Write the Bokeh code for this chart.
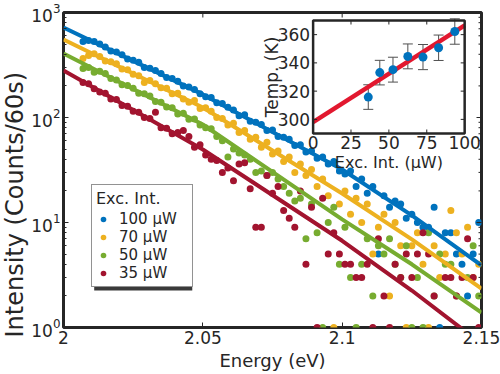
import math
import numpy as np
from bokeh.plotting import figure
from bokeh.models import Range1d, LinearScale, FixedTicker, Legend, LegendItem, Title
from bokeh.embed import file_html
from bokeh.resources import INLINE
from bokeh.core.properties import value

# ---------------- data ----------------
energy = [2.007, 2.009, 2.011, 2.013, 2.015, 2.017, 2.019, 2.021, 2.023, 2.025,
          2.027, 2.029, 2.031, 2.033, 2.035, 2.037, 2.039, 2.041, 2.043, 2.045,
          2.047, 2.049, 2.051, 2.053, 2.055, 2.057, 2.059, 2.061, 2.063, 2.065,
          2.067, 2.069, 2.071, 2.073, 2.075, 2.077, 2.079, 2.081, 2.083, 2.085,
          2.087, 2.089, 2.091, 2.093, 2.095, 2.097, 2.099, 2.101, 2.103, 2.105,
          2.107, 2.109, 2.111, 2.113, 2.115, 2.117, 2.119, 2.121, 2.123, 2.125,
          2.127, 2.129, 2.131, 2.133, 2.135, 2.137, 2.139, 2.141, 2.143, 2.145,
          2.147, 2.149]

nan = float("nan")
counts_100uW = [530, 540, 530, 500, 470, 430, 420, 395, 360, 350,
                335, 300, 295, 280, 262, 240, 235, 222, 200, 195,
                185, 168, 158, 155, 138, 136, 125, 118, 104, 106,
                92, 90, 86, 75, 76, 66, 65, 62, 54, 55,
                47, 48, 41, 42, 36, 38, 31, 29, 31, 22,
                26, 19, 22, 5, 18, 14, 16, 15, 11, 12,
                10, 9, 9, 14, 1, 8, 8, 5, 4, 2,
                5, 10]
counts_70uW = [365, 390, 405, 380, 345, 340, 325, 290, 285, 258,
               250, 215, 225, 210, 192, 190, 168, 170, 150, 140,
               145, 122, 124, 115, 100, 98, 85, 88, 72, 75,
               62, 65, 52, 58, 45, 48, 38, 42, 30, 36,
               28, 32, 22, 26, 18, 1, 15, 20, 12, 17,
               10, 15, 5, 9, 12, 2, 10, 6, 1, 6,
               8, 4, 1, 6, 3, 5, 13, 8, 5, 9,
               3, 4]
counts_50uW = [293, 300, 270, 275, 262, 235, 228, 205, 202, 190,
               170, 168, 160, 142, 140, 126, 124, 108, 110, 96,
               97, 85, 80, 78, 66, 60, 42, 50, 46, 44,
               40, 30, 31, 28, 30, 26, 22, 19, 16, 17,
               7, 15, 8, 1, 10, 14, 4, 9, 3, 1,
               4, 7, 2, 6, 5, 7, 4, 3, 6, 1,
               3, 1, 8, 2, 5, 4, 4, 2, nan, 3,
               6, 2]
counts_35uW = [215, 210, 188, 175, 170, 150, 148, 130, 128, 115,
               112, 100, 98, 112, 80, 79, 70, 72, 75, 66,
               52, 55, 44, 40, 39, 30, 33, 25, 36, 37,
               21, 9, 9, 28, 19, 22, 13, 11, 9, 20,
               4, 14, 1, 17, 5, 8, 5, 4, 4, 3,
               3, 4, 1, 7, 2, 1, 4, 3, 5, 3,
               5, 8, 5, 2, nan, 3, 3, 2, 3, 7,
               3, 1]
series_labels = ["100 μW", "70 μW", "50 μW", "35 μW"]

fit_energy = [2.0, 2.05, 2.1, 2.125, 2.15]
fit_100uW = [719, 166, 32.0, 11.7, 3.9]
fit_70uW = [553, 124.5, 18.9, 6.9, 2.35]
fit_50uW = [407, 85.8, 10.7, 4.0, 1.39]
fit_35uW = [280, 49.6, 6.7, 2.25, 0.70]

x_ticks = [2.0, 2.05, 2.1, 2.15]
x_tick_labels = ["2", "2.05", "2.1", "2.15"]
y_decades = [1, 10, 100, 1000]
y_minor = [m * d for d in (1, 10, 100) for m in range(2, 10)]

inset_power = [36.4, 44.0, 52.7, 62.5, 72.5, 82.8, 93.5]
inset_temp = [315.8, 333.1, 335.2, 344.6, 344.1, 350.7, 362.2]
inset_err = [8.7, 8.7, 8.8, 8.8, 8.9, 9.0, 9.0]
inset_fit_power = [0, 100]
inset_fit_temp = [298.0, 366.5]
inset_x_ticks = [0, 25, 50, 75, 100]
inset_y_ticks = [300, 320, 340, 360]
inset_x_lim = (0, 100)
inset_y_lim = (290, 370)

# ---------------- style ----------------
FONT = "DejaVu Sans"
INK = "#262626"
BLUE, YELLOW, GREEN, RED = "#0072BD", "#EDB120", "#77AC30", "#A2142F"
FIT_RED = "#E2182F"

W, H = 500, 374
B_L, B_R, B_T, B_B = 59, 19, 12, 47
FR_L, FR_R, FR_T, FR_B = B_L, W - B_R, B_T, H - B_B     # frame in figure px
INS_L, INS_R, INS_T, INS_B = 311, 464, 20, 133         # inset box in figure px

p = figure(width=W, height=H, x_range=Range1d(2.0, 2.15), y_range=Range1d(1, 1000),
           y_axis_type="log", output_backend="svg", toolbar_location=None,
           min_border_left=B_L, min_border_right=B_R, min_border_top=B_T,
           min_border_bottom=B_B, background_fill_color="white",
           border_fill_color="white")
p.xgrid.visible = False
p.ygrid.visible = False
p.outline_line_color = INK
p.outline_line_width = 3

for ax in (p.xaxis[0], p.yaxis[0]):
    ax.axis_line_color = None
    ax.major_tick_in = 5
    ax.major_tick_out = 0
    ax.minor_tick_in = 3
    ax.minor_tick_out = 0
    ax.major_tick_line_color = INK
    ax.minor_tick_line_color = INK
    ax.major_label_text_font = FONT
    ax.major_label_text_color = INK
    ax.major_label_text_font_size = "17px"
    ax.major_label_standoff = 3
    ax.axis_label_text_font = FONT
    ax.axis_label_text_font_style = "normal"
    ax.axis_label_text_color = INK

xa = p.xaxis[0]
xa.ticker = FixedTicker(ticks=x_ticks, minor_ticks=[])
xa.major_label_overrides = dict(zip(x_ticks, x_tick_labels))
xa.axis_label = "Energy (eV)"
xa.axis_label_text_font_size = "18px"
xa.axis_label_standoff = 3

# y-axis title in its own side panel: it starts just below the frame bottom,
# as in the original (not centred on the axis)
p.add_layout(Title(text="Intensity (Counts/60s)", align="left", vertical_align="middle",
                   offset=-10, standoff=-2, text_font=FONT, text_font_size="24px",
                   text_font_style="normal", text_color=INK), "left")


def e_of(xf):
    return 2.0 + (xf - FR_L) / (FR_R - FR_L) * 0.15


def c_of(yf):
    return 10 ** ((FR_B - yf) / (FR_B - FR_T) * 3)


# ---------------- main spectra ----------------
LEG_L, LEG_B, LEG_W, LEG_H = 87, 287, 99, 98     # legend box in figure px
# drop shadow of the legend box
p.quad(left=[e_of(LEG_L + 3)], right=[e_of(LEG_L + LEG_W + 3)],
       top=[c_of(LEG_B - LEG_H + 3)], bottom=[c_of(LEG_B + 3)],
       fill_color="#3a3a3a", line_color=None)

series = [(counts_100uW, fit_100uW, BLUE), (counts_70uW, fit_70uW, YELLOW),
          (counts_50uW, fit_50uW, GREEN), (counts_35uW, fit_35uW, RED)]
dot_renderers = []
for counts, fit, col in series:
    r = p.scatter(np.array(energy), np.array(counts, dtype=float), size=7,
                  fill_color=col, line_color=None)
    dot_renderers.append(r)
for counts, fit, col in series:
    p.line(fit_energy, fit, line_width=4, line_color=col)

# mirrored inward ticks on the top and right frame edges
p.scatter(x_ticks, [1000] * len(x_ticks), marker="dash", angle=math.pi / 2, size=10,
          line_color=INK, line_width=1)
p.scatter([2.15] * len(y_decades), y_decades, marker="dash", size=10,
          line_color=INK, line_width=1)
p.scatter([2.15] * len(y_minor), y_minor, marker="dash", size=6,
          line_color=INK, line_width=1)

# ---------------- legend ----------------
legend = Legend(items=[LegendItem(label=l, renderers=[r])
                       for l, r in zip(series_labels, dot_renderers)],
                title="Exc. Int.", location=(LEG_L - FR_L, FR_B - LEG_B),
                margin=0, padding=4, spacing=0, glyph_width=14, glyph_height=14,
                label_height=14, label_width=69, label_standoff=9, title_standoff=2,
                border_line_color=INK, border_line_width=1.5,
                background_fill_color="white", background_fill_alpha=1,
                label_text_font=FONT, label_text_font_size="15px",
                label_text_color=INK, title_text_font=FONT,
                title_text_font_size="16px", title_text_font_style="normal",
                title_text_color=INK)
p.add_layout(legend)

# ---------------- inset (own linear scales mapped onto its box) ----------------
ix0, ix1 = inset_x_lim
iy0, iy1 = inset_y_lim
sx = (INS_R - INS_L) / (ix1 - ix0)
sy = (INS_B - INS_T) / (iy1 - iy0)
p.extra_x_ranges = {"inset": Range1d(ix0 - (INS_L - FR_L) / sx, ix1 + (FR_R - INS_R) / sx)}
p.extra_y_ranges = {"inset": Range1d(iy0 - (FR_B - INS_B) / sy, iy1 + (INS_T - FR_T) / sy)}
p.extra_x_scales = {"inset": LinearScale()}
p.extra_y_scales = {"inset": LinearScale()}
ins = dict(x_range_name="inset", y_range_name="inset")

p.quad(left=[ix0], right=[ix1], bottom=[iy0], top=[iy1], fill_color="white",
       line_color=None, **ins)

lower = [t - e for t, e in zip(inset_temp, inset_err)]
upper = [t + e for t, e in zip(inset_temp, inset_err)]
p.segment(x0=inset_power, y0=lower, x1=inset_power, y1=upper,
          line_color="#505050", line_width=1, **ins)
p.scatter(inset_power, upper, marker="dash", size=10, line_color="#505050", line_width=1, **ins)
p.scatter(inset_power, lower, marker="dash", size=10, line_color="#505050", line_width=1, **ins)
p.line(inset_fit_power, inset_fit_temp, line_width=4.5, line_color=FIT_RED, **ins)
p.scatter(inset_power, inset_temp, size=9, fill_color=BLUE, line_color=None, **ins)

# inset ticks (inward) and box
tlx = 4 / sy   # vertical tick length in data units
tly = 4 / sx
nx, ny = len(inset_x_ticks), len(inset_y_ticks)
p.segment(x0=inset_x_ticks, y0=[iy0] * nx, x1=inset_x_ticks, y1=[iy0 + tlx] * nx,
          line_color=INK, line_width=1, **ins)
p.segment(x0=inset_x_ticks, y0=[iy1] * nx, x1=inset_x_ticks, y1=[iy1 - tlx] * nx,
          line_color=INK, line_width=1, **ins)
p.segment(x0=[ix0] * ny, y0=inset_y_ticks, x1=[ix0 + tly] * ny, y1=inset_y_ticks,
          line_color=INK, line_width=1, **ins)
p.segment(x0=[ix1] * ny, y0=inset_y_ticks, x1=[ix1 - tly] * ny, y1=inset_y_ticks,
          line_color=INK, line_width=1, **ins)
p.quad(left=[ix0], right=[ix1], bottom=[iy0], top=[iy1], fill_color=None,
       line_color=INK, line_width=2.5, **ins)

txt = dict(text_font=value(FONT), text_color=INK)
p.text(x=inset_x_ticks, y=[iy0] * nx, text=[str(t) for t in inset_x_ticks],
       text_align="center", text_baseline="top", y_offset=2,
       text_font_size="17px", **txt, **ins)
p.text(x=[ix0] * ny, y=inset_y_ticks, text=[str(t) for t in inset_y_ticks],
       text_align="right", text_baseline="middle", x_offset=-3,
       text_font_size="17px", **txt, **ins)
p.text(x=[(ix0 + ix1) / 2], y=[iy0], text=["Exc. Int. (μW)"], text_align="center",
       text_baseline="top", y_offset=19, text_font_size="16px", **txt, **ins)
p.text(x=[ix0 - 31 / sx], y=[(iy0 + iy1) / 2], text=["Temp. (K)"], angle=math.pi / 2,
       text_align="center", text_baseline="bottom",
       text_font_size="17px", **txt, **ins)

open("out.html", "w").write(file_html(p, INLINE))
